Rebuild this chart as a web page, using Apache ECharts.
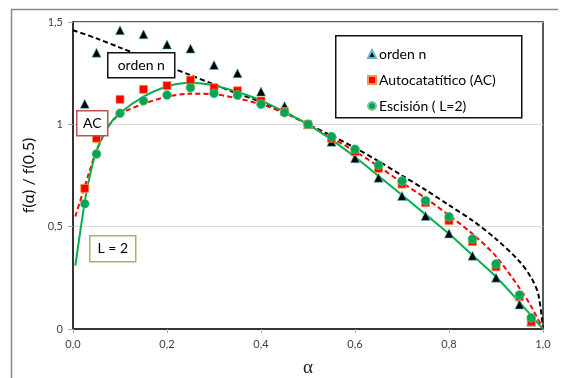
<!DOCTYPE html>
<html>
<head>
<meta charset="utf-8">
<script src="https://cdn.jsdelivr.net/npm/echarts@6/dist/echarts.min.js"></script>
<style>
html,body{margin:0;padding:0;background:#fff;}
#chart{width:569px;height:378px;}
</style>
</head>
<body>
<div id="chart"></div>
<script>
// ---- data ----
const alphaPts = [0.025,0.05,0.1,0.15,0.2,0.25,0.3,0.35,0.4,0.45,0.5,0.55,0.6,0.65,0.7,0.75,0.8,0.85,0.9,0.95,0.975];
const ordenN   = [1.10,1.35,1.46,1.44,1.39,1.37,1.29,1.25,1.16,1.09,1.00,0.915,0.834,0.739,0.650,0.552,0.467,0.358,0.251,0.120,0.036];
const autoCat  = [0.687,0.932,1.122,1.171,1.189,1.216,1.179,1.164,1.114,1.062,1.00,0.932,0.866,0.785,0.708,0.617,0.529,0.427,0.304,0.158,0.035];
const escision = [0.612,0.855,1.054,1.115,1.143,1.179,1.151,1.143,1.098,1.057,1.00,0.940,0.878,0.801,0.723,0.627,0.549,0.440,0.318,0.166,0.055];

const curveAlphaN = [0,0.05,0.1,0.15,0.2,0.25,0.3,0.35,0.4,0.45,0.5,0.55,0.6,0.65,0.7,0.75,0.8,0.85,0.9,0.95,0.975,0.99,1.0];
const curveN      = [1.46,1.42,1.375,1.33,1.285,1.24,1.195,1.15,1.11,1.06,1.0,0.945,0.885,0.82,0.75,0.68,0.605,0.53,0.44,0.33,0.25,0.17,0.0];

const curveAlphaAC = [0.005,0.02,0.035,0.05,0.075,0.1,0.15,0.2,0.25,0.3,0.35,0.4,0.45,0.5,0.55,0.6,0.65,0.7,0.75,0.8,0.85,0.9,0.95,0.975,1.0];
const curveAC      = [0.55,0.66,0.77,0.87,0.99,1.05,1.10,1.135,1.15,1.147,1.127,1.098,1.055,1.0,0.935,0.868,0.795,0.715,0.64,0.555,0.465,0.355,0.20,0.11,0.0];

const curveAlphaL2 = [0.005,0.015,0.025,0.035,0.05,0.075,0.1,0.15,0.2,0.25,0.3,0.35,0.4,0.45,0.5,0.55,0.6,0.65,0.7,0.75,0.8,0.85,0.9,0.95,1.0];
const curveL2      = [0.31,0.47,0.62,0.74,0.87,0.99,1.055,1.135,1.185,1.203,1.19,1.158,1.117,1.06,1.0,0.925,0.84,0.748,0.655,0.56,0.465,0.36,0.255,0.13,0.0];

const seriesNames = ['orden n','Autocatatítico (AC)','Escisión ( L=2)'];
const xTicks = {min:0, max:1, interval:0.2};
const yTicks = {min:0, max:1.5, interval:0.5};

const pair = (xs, ys) => xs.map((x,i)=>[x, ys[i]]);
const fmt = v => String(v).replace('.', ',');

const chart = echarts.init(document.getElementById('chart'), null, {renderer:'canvas'});
const FONT = 'Lato, "Open Sans", sans-serif';

const boxLabel = (x, y, w, h, text, border) => ({
  type:'group', left:x, top:y, z:100,
  children:[
    {type:'rect', z:100, shape:{x:0,y:0,width:w,height:h}, style:{fill:'#fff', stroke:border, lineWidth:1.5}},
    {type:'text', z:101, x:w/2, y:h/2, style:{text:text, fill:'#000', font:'14px '+FONT, align:'center', verticalAlign:'middle'}}
  ]
});

chart.setOption({
  animation:false,
  backgroundColor:'#fff',
  grid:{left:73, right:26, top:22, bottom:49, show:true, borderColor:'#222', borderWidth:1.5, outerBoundsMode:'none', containLabel:false},
  xAxis:{
    type:'value', min:xTicks.min, max:xTicks.max, interval:xTicks.interval,
    name:'α', nameLocation:'middle', nameGap:30,
    nameTextStyle:{fontSize:19, color:'#222', fontFamily:'"Liberation Serif", serif'},
    axisLine:{show:true, onZero:false, lineStyle:{color:'#333', width:2}},
    axisTick:{show:true, length:4, lineStyle:{color:'#aaa'}},
    splitLine:{show:false},
    axisLabel:{formatter:v=>v.toFixed(1).replace('.',','), color:'#404040', fontSize:11, margin:10, fontFamily:FONT}
  },
  yAxis:{
    type:'value', min:yTicks.min, max:yTicks.max, interval:yTicks.interval,
    name:'f(α) / f(0.5)', nameLocation:'middle', nameGap:30,
    nameTextStyle:{fontSize:16, color:'#111', fontFamily:FONT},
    axisLine:{show:true, onZero:false, lineStyle:{color:'#333', width:2}},
    axisTick:{show:true, length:5, lineStyle:{color:'#aaa'}},
    splitLine:{show:true, lineStyle:{color:'#d9d9d9', width:1}},
    axisLabel:{formatter:fmt, color:'#404040', fontSize:11, margin:10, fontFamily:FONT}
  },
  legend:{
    data:seriesNames, orient:'vertical', left:362, top:42, itemGap:12,
    itemWidth:8, itemHeight:8, textStyle:{fontSize:14, color:'#000', fontFamily:FONT, padding:[0,0,0,-2]}
  },
  graphic:[
    {type:'line', shape:{x1:11,y1:9.5,x2:558,y2:9.5}, style:{stroke:'#888', lineWidth:1.5}, z:1},
    {type:'line', shape:{x1:11.5,y1:9,x2:11.5,y2:378}, style:{stroke:'#888', lineWidth:1.5}, z:1},
    {type:'rect', left:335, top:35, z:0, shape:{width:186, height:82}, style:{fill:'#fff', stroke:'#111', lineWidth:1.5}},
    boxLabel(107, 52, 67, 25, 'orden n', '#111'),
    boxLabel(76, 110, 31, 25, 'AC', '#c0504d'),
    boxLabel(89, 235, 46, 26, 'L = 2', '#9bbb59')
  ],
  series:[
    {name:'curva orden n', type:'line', data:pair(curveAlphaN, curveN), showSymbol:false, smooth:0.3,
     lineStyle:{color:'#000', width:2, type:[5,3]}, z:2},
    {name:'curva AC', type:'line', data:pair(curveAlphaAC, curveAC), showSymbol:false, smooth:0.3,
     lineStyle:{color:'#ff0000', width:2, type:[5,3]}, z:2},
    {name:'curva L2', type:'line', data:pair(curveAlphaL2, curveL2), showSymbol:false, smooth:0.3,
     lineStyle:{color:'#00b050', width:2}, z:2},
    {name:seriesNames[0], type:'scatter', data:pair(alphaPts, ordenN), symbol:'triangle', symbolSize:9,
     itemStyle:{color:'#000', borderColor:'#5bb8d6', borderWidth:0.6, opacity:1}, z:4},
    {name:seriesNames[1], type:'scatter', data:pair(alphaPts, autoCat), symbol:'rect', symbolSize:8,
     itemStyle:{color:'#ff0000', borderColor:'#f79646', borderWidth:0.8, opacity:1}, z:4},
    {name:seriesNames[2], type:'scatter', data:pair(alphaPts, escision), symbol:'circle', symbolSize:9,
     itemStyle:{color:'#00a651', borderColor:'#7fc8a0', borderWidth:0.6, opacity:1}, z:5}
  ]
});
</script>
</body>
</html>
